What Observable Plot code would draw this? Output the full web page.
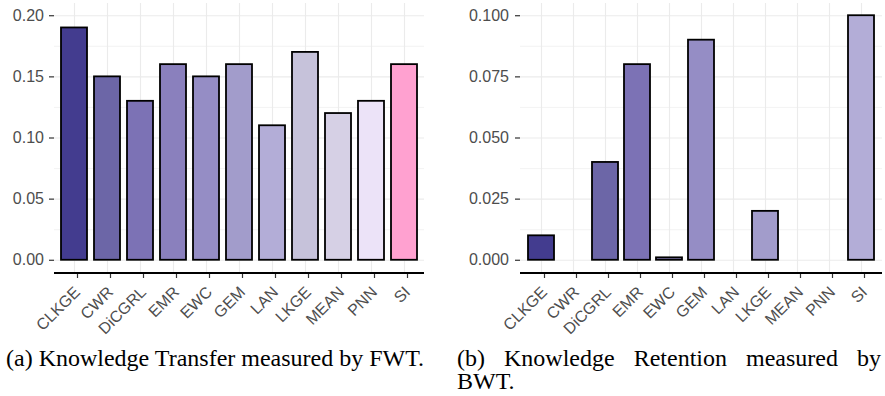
<!DOCTYPE html>
<html><head><meta charset="utf-8">
<script src="https://cdn.jsdelivr.net/npm/d3@7"></script>
<script src="https://cdn.jsdelivr.net/npm/@observablehq/plot@0.6"></script>
<style>
body{margin:0;background:#fff;width:885px;height:396px;overflow:hidden;position:relative;}
#a{position:absolute;left:0;top:0;}
#b{position:absolute;left:440px;top:0;}
#a svg text, #b svg text{font-size:16px;font-family:'Liberation Sans',Arial,sans-serif;}
.cap{position:absolute;font-family:"Liberation Serif","Times New Roman",serif;font-size:24px;line-height:23px;color:#000;}
#capA{left:6px;top:347px;white-space:nowrap;}
#capB{left:457px;top:347px;width:424px;text-align:justify;}
</style></head><body>
<div id="a"></div><div id="b"></div>
<div class="cap" id="capA">(a) Knowledge Transfer measured by FWT.</div>
<div class="cap" id="capB">(b) Knowledge Retention measured by BWT.</div>
<script>
const methods = ["CLKGE","CWR","DiCGRL","EMR","EWC","GEM","LAN","LKGE","MEAN","PNN","SI"];
const fwt = [0.19,0.15,0.13,0.16,0.15,0.16,0.11,0.17,0.12,0.13,0.16];
const bwt = [0.01,null,0.04,0.08,0.001,0.09,null,0.02,null,null,0.10];
const fwtColors = ["#433c8f","#6c66a7","#7c72b5","#8a80bd","#958dc5","#a29ccb","#b3add7","#c6c2da","#d6d0e5","#ece3f8","#ffa1d0"];
const bwtColors = ["#433c8f",null,"#6c66a7","#7c72b5","#8a80bd","#958dc5",null,"#a29ccb",null,null,"#b3add7"];
const fwtTicks = [0,0.05,0.10,0.15,0.20];
const fwtMinor = [0.025,0.075,0.125,0.175];
const bwtTicks = [0,0.025,0.05,0.075,0.10];
const bwtMinor = [0.0125,0.0375,0.0625,0.0875];

function panel({values, colors, width, marginLeft, marginRight, domain, major, minor, fmt, ypad}) {
  const data = methods.map((m,i)=>({method:m, value: values[i], color: colors[i]})).filter(d=>d.value!=null);
  return Plot.plot({
    width, height: 340, marginLeft, marginRight, marginTop: 3, marginBottom: 68,
    style: {fontFamily: "'Liberation Sans', Arial, sans-serif", fontSize: "16px", color: "#4d4d4d", background: "white"},
    x: {domain: methods, padding: 0.2, label: null},
    y: {domain, label: null},
    color: {type: "identity"},
    marks: [
      Plot.gridY(minor, {stroke: "#ebebeb", strokeOpacity: 1, strokeWidth: 0.6}),
      Plot.gridY(major, {stroke: "#ebebeb", strokeOpacity: 1, strokeWidth: 1.1}),
      Plot.gridX({stroke: "#ebebeb", strokeOpacity: 1, strokeWidth: 1.1}),
      Plot.barY(data, {x: "method", y: "value", fill: "color", stroke: "black", strokeWidth: 1.8}),
      Plot.axisY(major, {tickSize: 5, tickPadding: ypad, tickFormat: fmt, stroke: "#333", strokeWidth: 1.2, fill: "#4d4d4d"}),
      Plot.axisX({tickSize: 6, tickRotate: -45, tickPadding: 11, dx: 3, stroke: "#333", strokeWidth: 1.2, fill: "#4d4d4d", label: null}),
      Plot.ruleY([domain[0]], {stroke: "black", strokeWidth: 1.8, dy: 0.5})
    ]
  });
}

document.getElementById("a").append(panel({values: fwt, colors: fwtColors, width: 440, marginLeft: 54, marginRight: 16,
  domain: [-0.01, 0.21], major: fwtTicks, minor: fwtMinor, fmt: d3.format(".2f"), ypad: 5.5}));
document.getElementById("b").append(panel({values: bwt, colors: bwtColors, width: 445, marginLeft: 80, marginRight: 3,
  domain: [-0.005, 0.105], major: bwtTicks, minor: bwtMinor, fmt: d3.format(".3f"), ypad: 6.5}));
</script>
</body></html>
